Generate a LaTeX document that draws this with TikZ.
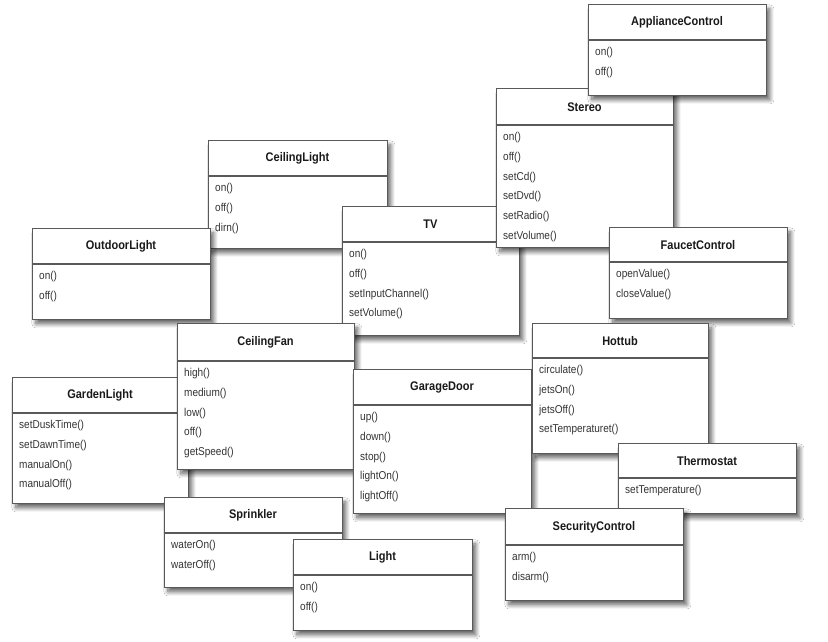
\documentclass[tikz,border=0pt]{standalone}
\usepackage{fontspec}
\setmainfont[FakeStretch=0.88]{Liberation Sans}
\usetikzlibrary{shadows,shadows.blur}

\tikzset{
  classbox/.style={draw=black!65, line width=0.9pt, fill=white,
    blur shadow={shadow xshift=3.5pt, shadow yshift=-4.5pt, shadow blur radius=4pt, shadow blur steps=10, shadow opacity=60},
    inner sep=0pt, anchor=north west},
  classsep/.style={draw=black!65, line width=1.5pt},
  classtitle/.style={font=\fontsize{12.5}{14}\selectfont\bfseries, text=black!90, inner sep=0pt},
  classitem/.style={font=\fontsize{11.4}{13}\selectfont, text=black!80, inner sep=0pt, anchor=west},
}

% name, x, y, width, height, header height, title, items
\newcommand{\umlclass}[8]{%
  \node[classbox, minimum width=#4pt, minimum height=#5pt] (#1) at (#2,#3) {};
  \coordinate (#1-sl) at (#2,{#3+#6});
  \coordinate (#1-sr) at ({#2+#4},{#3+#6});
  \draw[classsep] (#1-sl) -- (#1-sr);
  \node[classtitle] (#1-title) at ({#2+#4/2},{#3+#6/2+0.5}) {#7};
  \foreach \t [count=\i] in {#8}
    \node[classitem] (#1-item\i) at ({#2+7},{#3+#6+12.5+(\i-1)*19.8}) {\t};
}

\begin{document}
\begin{tikzpicture}[x=1pt,y=-1pt]
\useasboundingbox[fill=white] (0,0) rectangle (828,641);

\umlclass{ceilinglight}{208}{140}{179}{108}{36}{CeilingLight}{on(),off(),dirn()}
\umlclass{outdoorlight}{32}{228}{178}{91}{36}{OutdoorLight}{on(),off()}
\umlclass{tv}{342}{206}{177}{129}{36}{TV}{on(),off(),setInputChannel(),setVolume()}
\umlclass{stereo}{496}{88}{177}{159}{37}{Stereo}{on(),off(),setCd(),setDvd(),setRadio(),setVolume()}
\umlclass{appliancecontrol}{588}{4}{178}{91}{36}{ApplianceControl}{on(),off()}
\umlclass{faucetcontrol}{609}{227}{178}{91}{35}{FaucetControl}{openValue(),closeValue()}
\umlclass{gardenlight}{12}{377}{176}{126}{36}{GardenLight}{setDuskTime(),setDawnTime(),manualOn(),manualOff()}
\umlclass{ceilingfan}{177}{323}{177}{146}{38}{CeilingFan}{high(),medium(),low(),off(),getSpeed()}
\umlclass{garagedoor}{353}{369}{178}{144}{36}{GarageDoor}{up(),down(),stop(),lightOn(),lightOff()}
\umlclass{hottub}{532}{323}{176}{130}{35}{Hottub}{circulate(),jetsOn(),jetsOff(),setTemperaturet()}
\umlclass{thermostat}{618}{443}{178}{70}{35}{Thermostat}{setTemperature()}
\umlclass{securitycontrol}{505}{508}{178}{92}{37}{SecurityControl}{arm(),disarm()}
\umlclass{sprinkler}{164}{497}{178}{90}{36}{Sprinkler}{waterOn(),waterOff()}
\umlclass{light}{293}{539}{179}{91}{36}{Light}{on(),off()}
\end{tikzpicture}
\end{document}
